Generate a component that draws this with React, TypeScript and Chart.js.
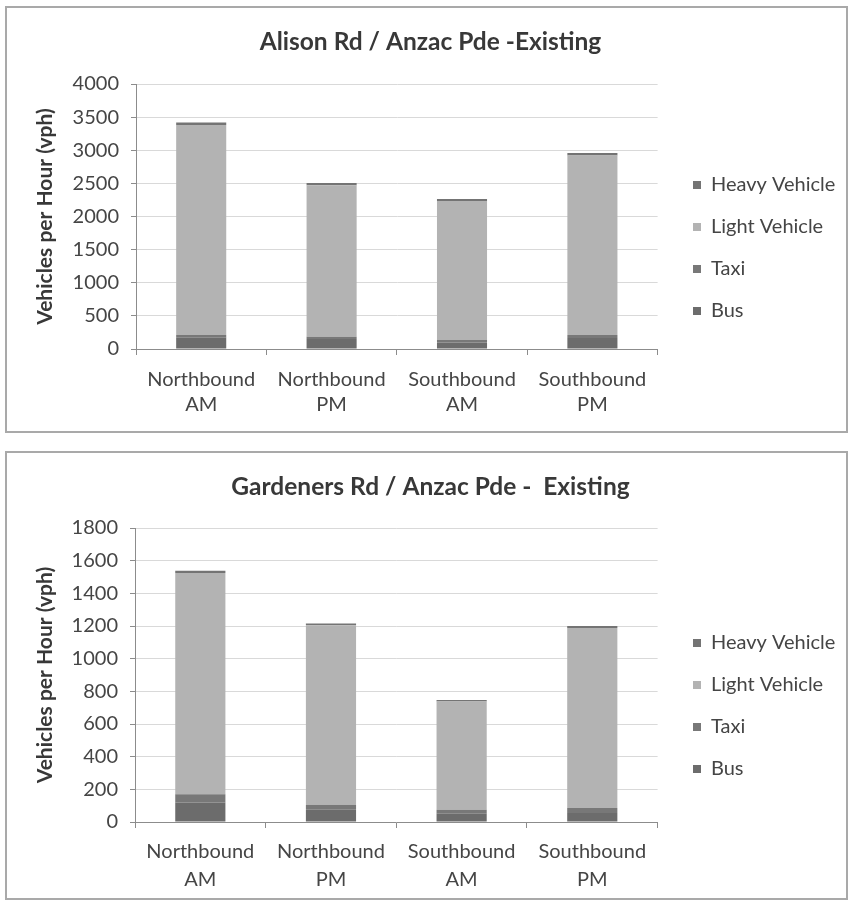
import React, { useEffect, useRef } from "react";
import { Chart, registerables } from "chart.js";

Chart.register(...registerables);

// ---------- data ----------
const categories = [
  ["Northbound", "AM"],
  ["Northbound", "PM"],
  ["Southbound", "AM"],
  ["Southbound", "PM"],
];
const seriesNames = ["Bus", "Taxi", "Light Vehicle", "Heavy Vehicle"];
const seriesColors = ["#6c6c6c", "#787878", "#b3b3b3", "#747474"];

const alisonTitle = "Alison Rd / Anzac Pde -Existing";
const alisonBus = [170, 150, 100, 165];
const alisonTaxi = [40, 35, 35, 45];
const alisonLight = [3170, 2286, 2100, 2710];
const alisonHeavy = [40, 35, 30, 40];
const alisonYMax = 4000;
const alisonYStep = 500;

const gardenersTitle = "Gardeners Rd / Anzac Pde -  Existing";
const gardenersBus = [120, 75, 50, 55];
const gardenersTaxi = [50, 30, 25, 30];
const gardenersLight = [1354, 1099, 662, 1103];
const gardenersHeavy = [15, 12, 10, 12];
const gardenersYMax = 1800;
const gardenersYStep = 200;

const yAxisTitle = "Vehicles per Hour (vph)";

// ---------- layout (page coordinates) ----------
type Geo = {
  panelLeft: number;
  panelTop: number;
  panelWidth: number;
  panelHeight: number;
  titleY: number;
  plotTop: number;
  plotBottom: number;
  plotLeft: number;
  plotRight: number;
  labelLine1Y: number;
  labelLineHeight: number;
  legendBoxX: number;
  legendFirstY: number;
  padRight: number;
};

const BORDER = 2;
const FONT = "Lato, 'Open Sans', sans-serif";
const TEXT = "#454545";

const topGeo: Geo = {
  panelLeft: 5,
  panelTop: 6,
  panelWidth: 843,
  panelHeight: 427,
  titleY: 42,
  plotTop: 84,
  plotBottom: 349,
  plotLeft: 136,
  plotRight: 657,
  labelLine1Y: 380,
  labelLineHeight: 25,
  legendBoxX: 693,
  legendFirstY: 185,
  padRight: 14,
};

const bottomGeo: Geo = {
  panelLeft: 5,
  panelTop: 451,
  panelWidth: 843,
  panelHeight: 449,
  titleY: 487,
  plotTop: 528,
  plotBottom: 822,
  plotLeft: 135,
  plotRight: 657,
  labelLine1Y: 852,
  labelLineHeight: 28,
  legendBoxX: 693,
  legendFirstY: 643,
  padRight: 14,
};

type PanelProps = {
  title: string;
  bus: number[];
  taxi: number[];
  light: number[];
  heavy: number[];
  yMax: number;
  yStep: number;
  geo: Geo;
};

function ChartPanel({ title, bus, taxi, light, heavy, yMax, yStep, geo }: PanelProps) {
  const ref = useRef<HTMLCanvasElement | null>(null);
  const cw = geo.panelWidth - 2 * BORDER;
  const ch = geo.panelHeight - 2 * BORDER;
  const ox = geo.panelLeft + BORDER;
  const oy = geo.panelTop + BORDER;

  useEffect(() => {
    if (!ref.current) return;
    const padT = 6;
    const padB = 4;
    const padL = 22;
    const titleFontSize = 24.5;
    const titleLH = titleFontSize * 1.2;
    const titlePadTop = geo.titleY - oy - padT - titleLH / 2;
    const titlePadBottom = geo.plotTop - oy - padT - titlePadTop - titleLH;
    const xTick = 6;
    const xLabelFont = 20;
    const xLabelLH = geo.labelLineHeight;
    const xPad = geo.labelLine1Y - geo.plotBottom - xTick - xLabelLH / 2;
    const yWidth = geo.plotLeft - ox - padL;
    const xHeight = ch - padB - (geo.plotBottom - oy);
    const legendFont = 20;
    const legendPad = 22;

    const values = [bus, taxi, light, heavy];
    const legendShift = {
      id: "legendShift",
      afterLayout(chart: any) {
        const lg = chart.legend;
        if (!lg || !lg.columnSizes || !lg.columnSizes.length) return;
        const dx = geo.legendBoxX - ox - (lg.left + legendPad);
        lg.left += dx;
        lg.right += dx;
        const colH = lg.columnSizes[0].height;
        const curY = (lg.top + legendPad + lg.bottom - colH) / 2;
        const wantY = geo.legendFirstY - oy - legendFont / 2;
        const dy = wantY - curY;
        lg.top += dy;
        lg.bottom += dy;
      },
    };

    const chart = new Chart(ref.current, {
      type: "bar",
      data: {
        labels: categories,
        datasets: seriesNames.map((name, i) => ({
          label: name,
          data: values[i],
          backgroundColor: seriesColors[i],
          borderWidth: 0,
          barPercentage: 0.384,
          categoryPercentage: 1,
        })),
      },
      options: {
        responsive: false,
        animation: false,
        layout: { padding: { left: padL, top: padT, right: geo.padRight, bottom: padB } },
        plugins: {
          title: {
            display: true,
            text: title,
            color: "#383838",
            font: { family: FONT, size: titleFontSize, weight: "bold", lineHeight: 1.2 },
            padding: { top: titlePadTop, bottom: titlePadBottom },
          },
          legend: {
            display: true,
            position: "right",
            reverse: true,
            labels: {
              boxWidth: 8,
              boxHeight: 8,
              padding: legendPad,
              color: TEXT,
              font: { family: FONT, size: legendFont },
            },
          },
          tooltip: { enabled: false },
        },
        scales: {
          x: {
            stacked: true,
            offset: true,
            afterFit(scale: any) {
              scale.height = xHeight;
            },
            grid: {
              display: true,
              offset: true,
              drawOnChartArea: false,
              drawTicks: true,
              tickLength: xTick,
              tickColor: "#8c8c8c",
            },
            border: { display: true, color: "#8c8c8c", width: 1 },
            ticks: {
              color: TEXT,
              padding: xPad,
              maxRotation: 0,
              autoSkip: false,
              font: { family: FONT, size: xLabelFont, lineHeight: xLabelLH / xLabelFont },
            },
          },
          y: {
            stacked: true,
            min: 0,
            max: yMax,
            afterFit(scale: any) {
              scale.width = yWidth;
            },
            grid: {
              color: "#d9d9d9",
              lineWidth: 1,
              drawTicks: true,
              tickLength: 5,
              tickColor: "#8c8c8c",
            },
            border: { display: true, color: "#8c8c8c", width: 1 },
            ticks: {
              stepSize: yStep,
              color: TEXT,
              padding: 12,
              font: { family: FONT, size: 20 },
              callback: (v: any) => String(v),
            },
            title: {
              display: true,
              text: yAxisTitle,
              color: "#383838",
              padding: { top: 4, bottom: 4 },
              font: { family: FONT, size: 21, weight: "bold", lineHeight: 1.2 },
            },
          },
        },
      },
      plugins: [legendShift],
    } as any);
    return () => chart.destroy();
  }, []);

  return (
    <div
      style={{
        position: "absolute",
        left: geo.panelLeft,
        top: geo.panelTop,
        width: geo.panelWidth,
        height: geo.panelHeight,
        boxSizing: "border-box",
        border: `${BORDER}px solid #a9a9a9`,
        background: "#ffffff",
      }}
    >
      <canvas ref={ref} width={cw} height={ch} style={{ display: "block", width: cw, height: ch }} />
    </div>
  );
}

export default function App() {
  return (
    <div style={{ position: "absolute", left: 0, top: 0, width: 849, height: 903, background: "#ffffff" }}>
      <ChartPanel
        title={alisonTitle}
        bus={alisonBus}
        taxi={alisonTaxi}
        light={alisonLight}
        heavy={alisonHeavy}
        yMax={alisonYMax}
        yStep={alisonYStep}
        geo={topGeo}
      />
      <ChartPanel
        title={gardenersTitle}
        bus={gardenersBus}
        taxi={gardenersTaxi}
        light={gardenersLight}
        heavy={gardenersHeavy}
        yMax={gardenersYMax}
        yStep={gardenersYStep}
        geo={bottomGeo}
      />
    </div>
  );
}
